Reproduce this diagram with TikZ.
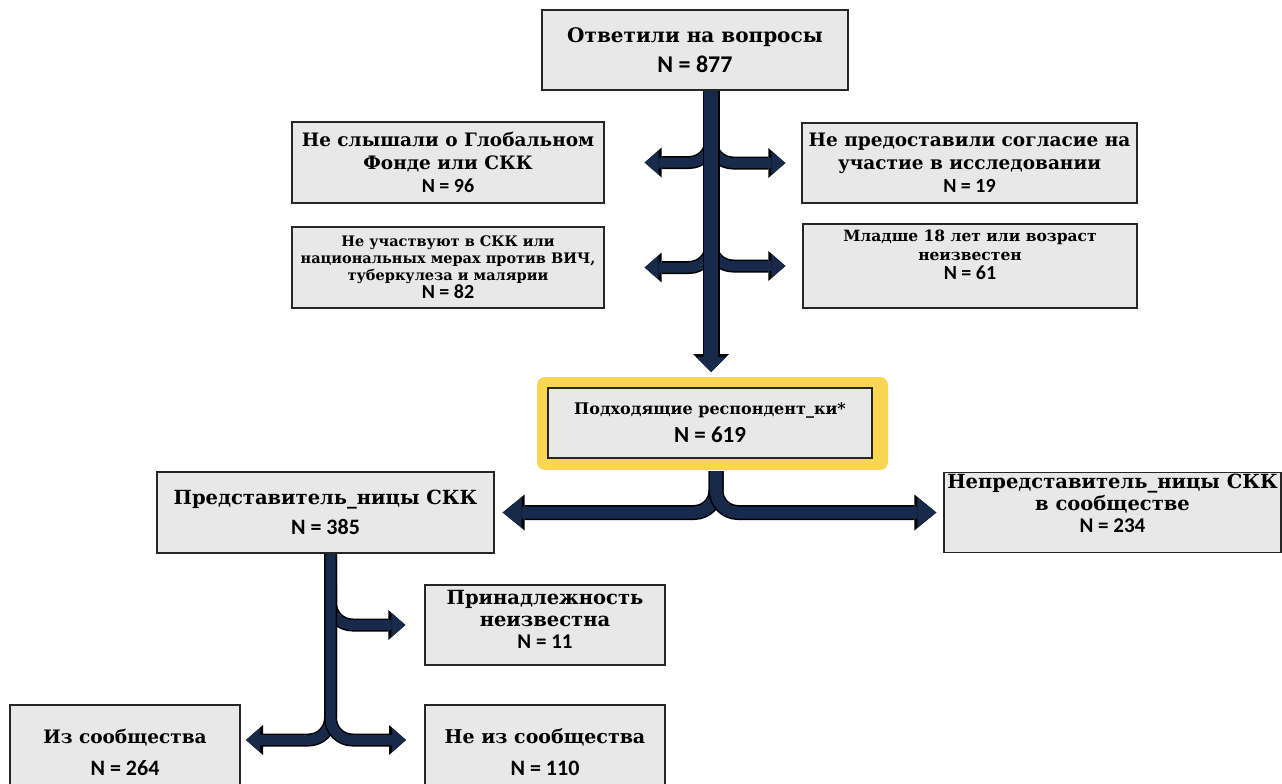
\documentclass[tikz,border=0pt]{standalone}
\usepackage{fontspec}
\setmainfont{DejaVu Serif}
\newfontfamily\numfont{Carlito}
\usetikzlibrary{arrows.meta}

\definecolor{navy}{RGB}{23,42,76}
\definecolor{boxgray}{RGB}{232,232,232}
\definecolor{glow}{RGB}{249,213,84}
\newcommand{\nval}[2]{{\numfont\fontsize{#1}{#1}\selectfont N = #2}}

\begin{document}
\begin{tikzpicture}[x=1pt, y=-1pt,
    box/.style={rectangle, draw=black!85, line width=1.3pt, fill=boxgray,
                align=center, inner sep=2pt},
    flow/.style={draw=navy, line width=10pt, rounded corners=22pt,
                 -{Triangle[length=14pt, width=24pt, line width=0pt]},
                 preaction={draw=black, line width=13pt,
                            -{Triangle[length=17pt, width=30pt, line width=0pt]}}},
    split/.style={draw=navy, line width=12pt, rounded corners=22pt,
                  -{Triangle[length=19pt, width=30pt, line width=0pt]},
                  preaction={draw=black, line width=15pt,
                             -{Triangle[length=22pt, width=36pt, line width=0pt]}}},
    trunk/.style={draw=navy, line width=14pt,
                  -{Triangle[length=15pt, width=30pt, line width=0pt]},
                  preaction={draw=black, line width=17pt,
                             -{Triangle[length=18pt, width=36pt, line width=0pt]}}}
]
    \fill[white] (0,0) rectangle (1282,784);
    \path[use as bounding box, clip] (0,0) rectangle (1282,784);

    % Screening
    \node[box, minimum width=306pt, minimum height=80pt,
          font=\fontsize{20}{30}\selectfont\bfseries] (answered) at (695,50)
          {Ответили на вопросы\\\nval{24}{877}};

    \node[box, minimum width=312pt, minimum height=81pt,
          font=\fontsize{18.5}{23}\selectfont\bfseries] (heard) at (448,162.5)
          {Не слышали о Глобальном\\Фонде или СКК\\\nval{20}{96}};
    \node[box, minimum width=335pt, minimum height=80pt,
          font=\fontsize{18.5}{23}\selectfont\bfseries] (consent) at (969.5,163)
          {Не предоставили согласие на\\участие в исследовании\\\nval{20}{19}};

    \node[box, minimum width=312pt, minimum height=81pt,
          font=\fontsize{14.5}{17}\selectfont\bfseries] (part) at (448,267.5)
          {Не участвуют в СКК или\\национальных мерах против ВИЧ,\\туберкулеза и малярии\\\nval{20}{82}};
    \node[box, minimum width=334pt, minimum height=84pt, text depth=22pt,
          font=\fontsize{15.5}{19}\selectfont\bfseries] (age) at (970,266)
          {Младше 18 лет или возраст\\неизвестен\\\nval{20}{61}};

    % Eligible
    \node[fill=glow, rounded corners=8pt, minimum width=351pt,
          minimum height=93pt] (halo) at (712.5,423.5) {};
    \node[box, minimum width=324pt, minimum height=70pt,
          font=\fontsize{16}{28}\selectfont\bfseries] (eligible) at (710,423)
          {Подходящие респондент\_ки*\\\nval{23}{619}};

    \node[box, minimum width=337pt, minimum height=81pt,
          font=\fontsize{19.5}{30}\selectfont\bfseries] (rep) at (325.5,512.5)
          {Представитель\_ницы СКК\\\nval{22}{385}};
    \node[box, minimum width=337pt, minimum height=79pt, text depth=18pt,
          font=\fontsize{19.5}{22}\selectfont\bfseries] (nonrep) at (1112.5,512.5)
          {Непредставитель\_ницы СКК\\в сообществе\\\nval{21}{234}};

    % Community split
    \node[box, minimum width=240pt, minimum height=80pt, text depth=12pt,
          font=\fontsize{19.5}{22}\selectfont\bfseries] (unknown) at (545,625)
          {Принадлежность\\неизвестна\\\nval{21}{11}};
    \node[box, minimum width=230pt, minimum height=95pt,
          font=\fontsize{18.5}{32}\selectfont\bfseries] (from) at (125,752.5)
          {Из сообщества\\\nval{22}{264}};
    \node[box, minimum width=240pt, minimum height=95pt,
          font=\fontsize{19}{32}\selectfont\bfseries] (notfrom) at (545,752.5)
          {Не из сообщества\\\nval{22}{110}};

    % Arrows
    \coordinate (topend) at (711,372);
    \coordinate (j1) at (711,135);
    \coordinate (j2) at (711,241);
    \draw[flow] (j1) |- ([xshift=40pt]heard.east);
    \draw[flow] (j1) |- ([xshift=-16pt]consent.west);
    \draw[flow] (j2) |- ([xshift=40pt]part.east);
    \draw[flow] (j2) |- ([xshift=-17pt]age.west);
    \draw[trunk] (answered.south -| topend) -- (topend);

    \coordinate (j3) at (716,471);
    \draw[split] (j3) |- ([xshift=8pt]rep.east);
    \draw[split] (j3) |- ([xshift=-7pt]nonrep.west);

    \coordinate (j4) at (330.5,554);
    \coordinate (j5) at (330.5,585);
    \coordinate (tl) at (246,740);
    \coordinate (tr) at (406,740);
    \draw[flow] (j5) |- ([xshift=-19pt]unknown.west);
    \draw[flow] (j4) |- (tl);
    \draw[flow] (j4) |- (tr);

\end{tikzpicture}
\end{document}
